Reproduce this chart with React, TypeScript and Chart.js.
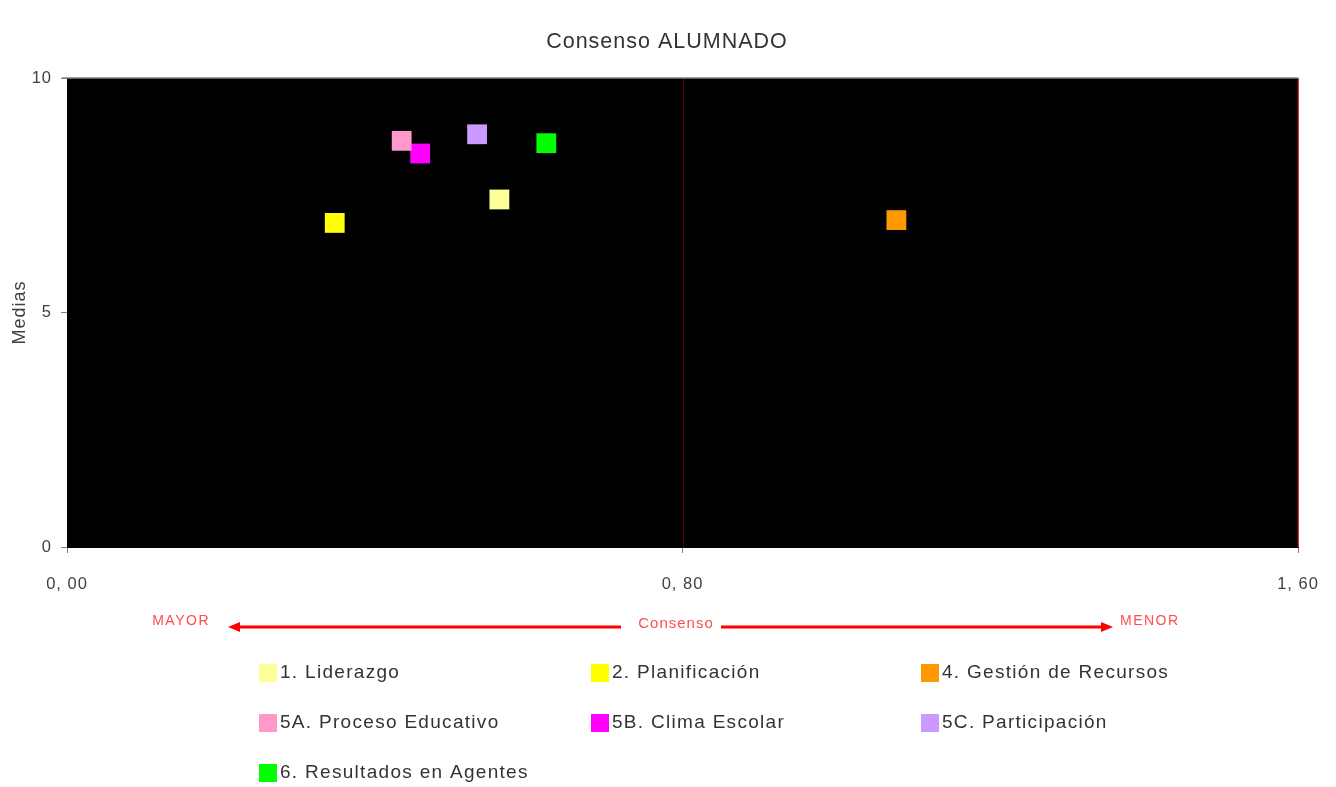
import React, { useEffect, useRef } from "react";
import { Chart, registerables } from "chart.js";

Chart.register(...registerables);

const FONT = "'Liberation Sans', Arial, sans-serif";

const chartTitle = "Consenso ALUMNADO";
const yAxisTitle = "Medias";
const categories = [
  "1. Liderazgo",
  "2. Planificación",
  "4. Gestión de Recursos",
  "5A. Proceso Educativo",
  "5B. Clima Escolar",
  "5C. Participación",
  "6. Resultados en Agentes",
];
const consenso = [0.562, 0.348, 1.078, 0.435, 0.459, 0.533, 0.623];
const medias = [7.41, 6.91, 6.97, 8.66, 8.39, 8.8, 8.61];
const colors = ["#FFFF99", "#FFFF00", "#FF9900", "#FF99CC", "#FF00FF", "#CC99FF", "#00FF00"];
const xTickValues = [0, 0.8, 1.6];
const xTickLabels = ["0, 00", "0, 80", "1, 60"];
const yTickValues = [0, 5, 10];
const yTickLabels = ["0", "5", "10"];
const arrowLeftLabel = "MAYOR";
const arrowMidLabel = "Consenso";
const arrowRightLabel = "MENOR";

const decorPlugin = {
  id: "decor",
  beforeUpdate(chart: any) {
    chart.ctx.letterSpacing = "1px";
  },
  beforeDraw(chart: any) {
    const { ctx, chartArea } = chart;
    ctx.letterSpacing = "1px";
    ctx.save();
    ctx.fillStyle = "#000000";
    ctx.fillRect(chartArea.left, chartArea.top, chartArea.right - chartArea.left, chartArea.bottom - chartArea.top);
    // title
    ctx.fillStyle = "#333333";
    ctx.font = `21.5px ${FONT}`;
    ctx.textAlign = "center";
    ctx.textBaseline = "middle";
    ctx.fillText(chartTitle, chart.width / 2 - 1, chartArea.top - 36);
    ctx.restore();
  },
  beforeDatasetsDraw(chart: any) {
    const { ctx, chartArea, scales } = chart;
    const xMid = Math.round(scales.x.getPixelForValue(0.8)) + 0.5;
    ctx.save();
    ctx.lineWidth = 1;
    ctx.strokeStyle = "#600000";
    ctx.beginPath();
    ctx.moveTo(xMid, chartArea.top);
    ctx.lineTo(xMid, chartArea.bottom);
    ctx.stroke();
    ctx.strokeStyle = "#8B0000";
    ctx.lineWidth = 1.5;
    ctx.beginPath();
    ctx.moveTo(chartArea.right, chartArea.top);
    ctx.lineTo(chartArea.right, chartArea.bottom);
    ctx.stroke();
    ctx.strokeStyle = "#808080";
    ctx.lineWidth = 1.5;
    ctx.beginPath();
    ctx.moveTo(chartArea.left - 5, chartArea.top);
    ctx.lineTo(chartArea.right, chartArea.top);
    ctx.stroke();
    ctx.restore();
  },
  afterDraw(chart: any) {
    const { ctx, chartArea } = chart;
    ctx.save();
    // Consenso arrow
    const y = chartArea.bottom + 80;
    const leftTip = chartArea.left + 161;
    const rightTip = chartArea.right - 185;
    const textMid = chartArea.left + 608;
    const gapL = textMid - 54;
    const gapR = textMid + 46;
    ctx.strokeStyle = "#FF0000";
    ctx.fillStyle = "#FF0000";
    ctx.lineWidth = 3;
    ctx.beginPath();
    ctx.moveTo(leftTip + 8, y);
    ctx.lineTo(gapL, y);
    ctx.moveTo(gapR, y);
    ctx.lineTo(rightTip - 8, y);
    ctx.stroke();
    ctx.beginPath();
    ctx.moveTo(leftTip, y);
    ctx.lineTo(leftTip + 12, y - 5);
    ctx.lineTo(leftTip + 12, y + 5);
    ctx.closePath();
    ctx.fill();
    ctx.beginPath();
    ctx.moveTo(rightTip, y);
    ctx.lineTo(rightTip - 12, y - 5);
    ctx.lineTo(rightTip - 12, y + 5);
    ctx.closePath();
    ctx.fill();

    ctx.fillStyle = "#FF4D4D";
    ctx.textBaseline = "middle";
    ctx.letterSpacing = "1.5px";
    ctx.font = `14px ${FONT}`;
    ctx.textAlign = "right";
    ctx.fillText(arrowLeftLabel, leftTip - 18, y - 6);
    ctx.textAlign = "left";
    ctx.fillText(arrowRightLabel, rightTip + 7, y - 6);
    ctx.letterSpacing = "1px";
    ctx.font = `15px ${FONT}`;
    ctx.textAlign = "center";
    ctx.fillText(arrowMidLabel, textMid + 1, y - 3);

    // Legend
    const colX = [chartArea.left + 192, chartArea.left + 524, chartArea.left + 854];
    const rowY = [chartArea.bottom + 126, chartArea.bottom + 176, chartArea.bottom + 226];
    ctx.font = `19px ${FONT}`;
    ctx.letterSpacing = "1.3px";
    ctx.textAlign = "left";
    ctx.textBaseline = "middle";
    categories.forEach((cat, i) => {
      const cx = colX[i % 3];
      const cy = rowY[Math.floor(i / 3)];
      ctx.fillStyle = colors[i];
      ctx.fillRect(cx, cy - 9, 18, 18);
      ctx.fillStyle = "#333333";
      ctx.fillText(cat, cx + 21, cy);
    });
    ctx.restore();
  },
};

export default function App() {
  const canvasRef = useRef<HTMLCanvasElement | null>(null);

  useEffect(() => {
    document.body.style.margin = "0";
    const canvas = canvasRef.current;
    if (!canvas) return;
    const datasets = categories.map((cat, i) => ({
      label: cat,
      data: [{ x: consenso[i], y: medias[i] }],
      backgroundColor: colors[i],
      borderColor: colors[i],
      borderWidth: 0,
      pointStyle: "rect",
      pointRadius: 14,
      pointHoverRadius: 14,
    }));
    const chart = new Chart(canvas, {
      type: "scatter",
      data: { datasets } as any,
      plugins: [decorPlugin],
      options: {
        responsive: false,
        animation: false,
        devicePixelRatio: 1,
        events: [],
        layout: { padding: { left: 0, right: 38, top: 78, bottom: 0 } },
        plugins: {
          legend: { display: false },
          tooltip: { enabled: false },
          title: { display: false },
        },
        scales: {
          x: {
            type: "linear",
            min: 0,
            max: 1.6,
            afterFit: (s: any) => {
              s.height = 240;
              s.paddingLeft = 0;
              s.paddingRight = 0;
            },
            afterBuildTicks: (s: any) => {
              s.ticks = xTickValues.map((v) => ({ value: v }));
            },
            ticks: {
              color: "#404040",
              font: { family: FONT, size: 16.5 },
              padding: 22,
              maxRotation: 0,
              callback: (v: any) => {
                const idx = xTickValues.findIndex((t) => Math.abs(t - Number(v)) < 1e-6);
                return idx >= 0 ? xTickLabels[idx] : "";
              },
            },
            grid: { display: true, drawOnChartArea: false, drawTicks: true, tickLength: 6, color: "#808080" },
            border: { display: true, color: "#000000" },
          },
          y: {
            type: "linear",
            min: 0,
            max: 10,
            afterFit: (s: any) => {
              s.width = 67;
              s.paddingTop = 0;
              s.paddingBottom = 0;
            },
            afterBuildTicks: (s: any) => {
              s.ticks = yTickValues.map((v) => ({ value: v }));
            },
            ticks: {
              color: "#404040",
              font: { family: FONT, size: 16.5 },
              padding: 9,
              callback: (v: any) => {
                const idx = yTickValues.findIndex((t) => Math.abs(t - Number(v)) < 1e-6);
                return idx >= 0 ? yTickLabels[idx] : "";
              },
            },
            title: {
              display: true,
              text: yAxisTitle,
              color: "#404040",
              font: { family: FONT, size: 18 },
              padding: { top: 9, bottom: 0 },
            },
            grid: { display: true, drawOnChartArea: false, drawTicks: true, tickLength: 6, color: "#808080" },
            border: { display: true, color: "#000000" },
          },
        },
      } as any,
    });
    return () => chart.destroy();
  }, []);

  return (
    <div style={{ width: 1336, height: 787 }}>
      <canvas ref={canvasRef} width={1336} height={787} style={{ display: "block" }} />
    </div>
  );
}
